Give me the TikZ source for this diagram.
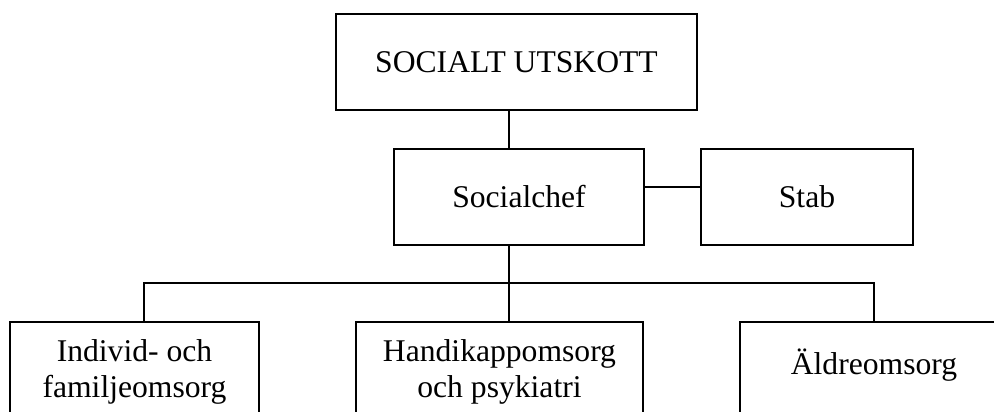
\documentclass[tikz,border=0pt]{standalone}
\usepackage{fontspec}
\setmainfont{Liberation Serif}
\usepackage{tikz}

\begin{document}
\begin{tikzpicture}[x=0.02cm, y=-0.02cm, line width=0.8pt,
        unit/.style={rectangle, draw, align=center, inner sep=2pt,
            font=\fontsize{18}{20.75}\selectfont}]
        \useasboundingbox (0,0) rectangle (994,412);
        \clip (0,0) rectangle (994,412);

        \node[unit, minimum width=7.22cm, minimum height=1.92cm] (utskott) at (516.5, 62) {SOCIALT UTSKOTT};
        \node[unit, minimum width=5cm, minimum height=1.92cm] (chef) at (519, 197) {Socialchef};
        \node[unit, minimum width=4.24cm, minimum height=1.92cm] (stab) at (807, 197) {Stab};
        \node[unit, minimum width=4.98cm, minimum height=2cm] (ifo) at (134.5, 372) {Individ- och\\familjeomsorg};
        \node[unit, minimum width=5.74cm, minimum height=2cm] (hop) at (499.5, 372) {Handikappomsorg\\och psykiatri};
        \node[unit, minimum width=5.36cm, minimum height=2cm, text depth=12pt] (aldre) at (874, 372) {Äldreomsorg};

        \coordinate (spine) at (509, 283);
        \coordinate (busL) at (144, 283);
        \coordinate (busR) at (874, 283);

        \draw (utskott.south -| spine) to (chef.north -| spine);
        \draw ([yshift=0.2cm]chef.east) to ([yshift=0.2cm]stab.west);
        \draw (chef.south -| spine) to (spine) to (hop.north -| spine);
        \draw (ifo.north -| busL) to (busL) to (busR) to (aldre.north -| busR);
    \end{tikzpicture}
\end{document}
